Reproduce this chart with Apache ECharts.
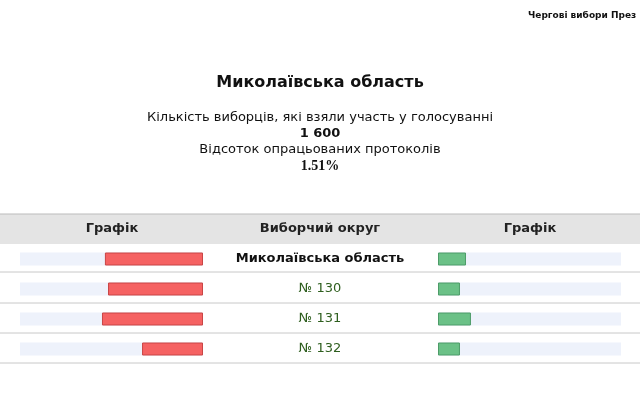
<!DOCTYPE html>
<html><head><meta charset="utf-8">
<script src="https://cdn.jsdelivr.net/npm/echarts@6/dist/echarts.min.js"></script>
<style>html,body{margin:0;padding:0;background:#fff}#c{width:640px;height:400px}</style>
</head><body><div id="c"></div>
<script>
const categories = ['Миколаївська область', '№ 130', '№ 131', '№ 132'];
const leftValues = [53.6, 51.9, 55.2, 33.3];
const rightValues = [15.3, 12.0, 18.0, 12.0];
const headers = ['Графік', 'Виборчий округ', 'Графік'];

const chart = echarts.init(document.getElementById('c'));
const F = 'DejaVu Sans';
const rowLines = [272, 303, 333, 363].map(y => ({type:'line', shape:{x1:0,y1:y,x2:640,y2:y}, style:{stroke:'#c8c8c8', lineWidth:1}}));
chart.setOption({
  animation:false,
  graphic:[
    {type:'text', left:528, top:11, style:{text:'Чергові вибори През', font:'bold 9px '+F, fill:'#111'}},
    {type:'text', left:'center', top:75, style:{text:'Миколаївська область', font:'bold 16px '+F, fill:'#111'}},
    {type:'text', left:'center', top:111, style:{text:'Кількість виборців, які взяли участь у голосуванні', font:'13px '+F, fill:'#111'}},
    {type:'text', left:'center', top:127, style:{text:'1 600', font:'bold 13px '+F, fill:'#111'}},
    {type:'text', left:'center', top:143, style:{text:'Відсоток опрацьованих протоколів', font:'13px '+F, fill:'#111'}},
    {type:'text', left:'center', top:159, style:{text:'1.51%', font:'bold 14px "Liberation Serif"', fill:'#111'}},
    {type:'rect', shape:{x:0,y:214,width:640,height:30}, style:{fill:'#e4e4e4'}, z:-1},
    {type:'line', shape:{x1:0,y1:214,x2:640,y2:214}, style:{stroke:'#bbb', lineWidth:1}},
    {type:'text', x:112, y:229, style:{text:headers[0], font:'bold 13px '+F, fill:'#222', align:'center', verticalAlign:'middle'}},
    {type:'text', x:320, y:229, style:{text:headers[1], font:'bold 13px '+F, fill:'#222', align:'center', verticalAlign:'middle'}},
    {type:'text', x:530, y:229, style:{text:headers[2], font:'bold 13px '+F, fill:'#222', align:'center', verticalAlign:'middle'}},
    ...rowLines
  ],
  grid:[
    {left:20, width:183, top:244, height:120},
    {left:438, width:183, top:244, height:120}
  ],
  xAxis:[
    {gridIndex:0, type:'value', min:0, max:100, inverse:true, show:false},
    {gridIndex:1, type:'value', min:0, max:100, show:false}
  ],
  yAxis:[
    {gridIndex:0, type:'category', data:categories, inverse:true, position:'right',
     axisLine:{show:false}, axisTick:{show:false},
     axisLabel:{align:'center', margin:117, fontFamily:F, fontSize:13,
       formatter:(v,i)=> i===0 ? '{b|'+v+'}' : '{n|'+v+'}',
       rich:{b:{fontWeight:'bold', color:'#111', fontSize:13, fontFamily:F},
             n:{color:'#2e5e1e', fontSize:13, fontFamily:F, borderColor:'#2e5e1e', borderWidth:0, padding:[0,0,1,0]}}}},
    {gridIndex:1, type:'category', data:categories, inverse:true, show:false}
  ],
  series:[
    {type:'bar', xAxisIndex:0, yAxisIndex:0, data:leftValues, barWidth:13,
     showBackground:true, backgroundStyle:{color:'#eef2fb'},
     itemStyle:{color:'#f56262', borderColor:'#c94545', borderWidth:1}},
    {type:'bar', xAxisIndex:1, yAxisIndex:1, data:rightValues, barWidth:13,
     showBackground:true, backgroundStyle:{color:'#eef2fb'},
     itemStyle:{color:'#6bc187', borderColor:'#4d9c68', borderWidth:1}}
  ]
});
</script></body></html>
